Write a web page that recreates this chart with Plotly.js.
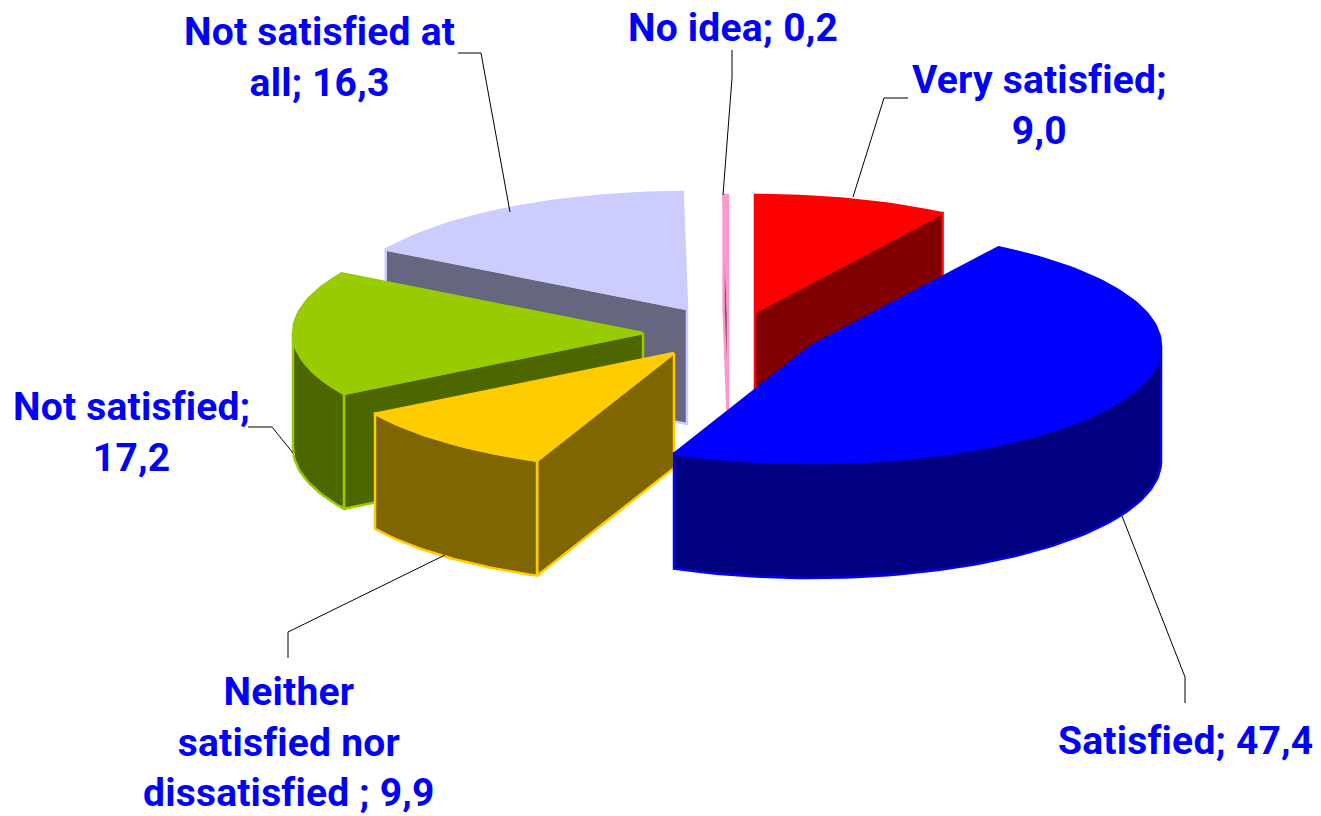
<!DOCTYPE html>
<html>
<head>
<meta charset="utf-8">
<script src="https://cdn.plot.ly/plotly-3.0.1.min.js"></script>
<style>html,body{margin:0;padding:0;background:#fff;overflow:hidden}#chart{width:1321px;height:816px}text{font-variant-ligatures:none;font-feature-settings:"liga" 0;letter-spacing:0.2px}</style>
</head>
<body>
<div id="chart"></div>
<script>
// Data, clockwise from twelve o'clock
const categories = ['Very satisfied', 'Satisfied', 'Neither satisfied nor dissatisfied ', 'Not satisfied', 'Not satisfied at all', 'No idea'];
const values = [9.0, 47.4, 9.9, 17.2, 16.3, 0.2];
const valueLabels = ['9,0', '47,4', '9,9', '17,2', '16,3', '0,2'];

// Styles
const topColors = ['#FF0000', '#0000FF', '#FFCC00', '#99CC00', '#CCCCFF', '#FF99CC'];
const sideColors = ['#800000', '#000080', '#806600', '#4D6600', '#666680', '#804D66'];

// Exploded slice anchors and projection of the 3D pie
const anchorX = [755, 811, 674, 643, 687, 728];
const anchorY = [312, 346, 353, 333, 309, 312];
const radiusX = 350, radiusY = 117, depth = 115;
const drawOrder = [4, 5, 0, 3, 2, 1];

// Labels placement
const labelLines = [
  ['Very satisfied;', '9,0'], ['Satisfied; 47,4'], ['Neither', 'satisfied nor', 'dissatisfied ; 9,9'],
  ['Not satisfied;', '17,2'], ['Not satisfied at', 'all; 16,3'], ['No idea; 0,2']
];
const labelX = [1039, 1185, 289, 131, 319, 733];
const labelY = [105, 741, 742, 432, 57, 28];
const leaderLines = [
  [[908,98],[884,98],[853,197]],
  [[1185,703],[1185,677],[1122,516]],
  [[288,658],[288,632],[445,555]],
  [[248,427],[272,427],[293,453]],
  [[458,53],[481,53],[510,212]],
  [[732,50],[732,78],[723,195]]
];

const total = values.reduce((a, b) => a + b, 0);
const rad = d => d * Math.PI / 180;
const px = (i, a) => anchorX[i] + radiusX * Math.sin(rad(a));
const py = (i, a) => anchorY[i] - radiusY * Math.cos(rad(a));

let acc = 0;
const spans = values.map(v => { const s = acc / total * 360; acc += v; return [s, acc / total * 360]; });

function poly(xs, ys, fill, line, name) {
  return {type: 'scatter', mode: 'lines', x: xs.concat(xs[0]), y: ys.concat(ys[0]), fill: 'toself',
    fillcolor: fill, line: {color: line, width: 2.5}, name: name, hoverinfo: 'name', showlegend: false};
}
function arcAngles(a0, a1) {
  const n = Math.max(2, Math.ceil((a1 - a0) / 1.5));
  const out = [];
  for (let k = 0; k <= n; k++) out.push(a0 + (a1 - a0) * k / n);
  return out;
}
function radialWall(i, a) {
  return poly([anchorX[i], px(i, a), px(i, a), anchorX[i]],
    [anchorY[i], py(i, a), py(i, a) + depth, anchorY[i] + depth], sideColors[i], topColors[i], categories[i]);
}

const traces = [];
drawOrder.forEach(i => {
  const [a0, a1] = spans[i];
  const name = categories[i] + ': ' + valueLabels[i];
  // wall on the start side faces the viewer on the left half, end side on the right half
  if (Math.sin(rad(a1)) > 0.01) traces.push(radialWall(i, a1));
  if (Math.sin(rad(a0)) < -0.001) traces.push(radialWall(i, a0));
  // outer rim: only the part in front (90..270 degrees)
  const f0 = Math.max(a0, 90), f1 = Math.min(a1, 270);
  if (f1 > f0) {
    const ang = arcAngles(f0, f1);
    const xs = ang.map(a => px(i, a)), ys = ang.map(a => py(i, a));
    traces.push(poly(xs.concat(xs.slice().reverse()), ys.concat(ys.slice().reverse().map(y => y + depth)),
      sideColors[i], topColors[i], name));
  }
  // top face
  const ang = arcAngles(a0, a1);
  traces.push(poly([anchorX[i]].concat(ang.map(a => px(i, a))), [anchorY[i]].concat(ang.map(a => py(i, a))),
    topColors[i], topColors[i], name));
});

const layout = {
  width: 1321, height: 816,
  margin: {l: 0, r: 0, t: 0, b: 0},
  paper_bgcolor: '#fff', plot_bgcolor: '#fff',
  showlegend: false,
  xaxis: {range: [0, 1321], visible: false, fixedrange: true},
  yaxis: {range: [816, 0], visible: false, fixedrange: true},
  shapes: leaderLines.map(p => ({
    type: 'path', xref: 'x', yref: 'y',
    path: 'M' + p.map(q => q.join(',')).join('L'),
    line: {color: '#000', width: 1}
  })),
  annotations: labelLines.map((lines, i) => ({
    xref: 'x', yref: 'y', x: labelX[i], y: labelY[i], xanchor: 'center', yanchor: 'middle',
    text: lines.map(s => '<b>' + s + '</b>').join('<br>'), showarrow: false, align: 'center',
    font: {family: 'Roboto, Arial, sans-serif', size: 39, color: '#0000FF'}
  }))
};
Plotly.newPlot('chart', traces, layout, {displayModeBar: false, staticPlot: true});
</script>
</body>
</html>
